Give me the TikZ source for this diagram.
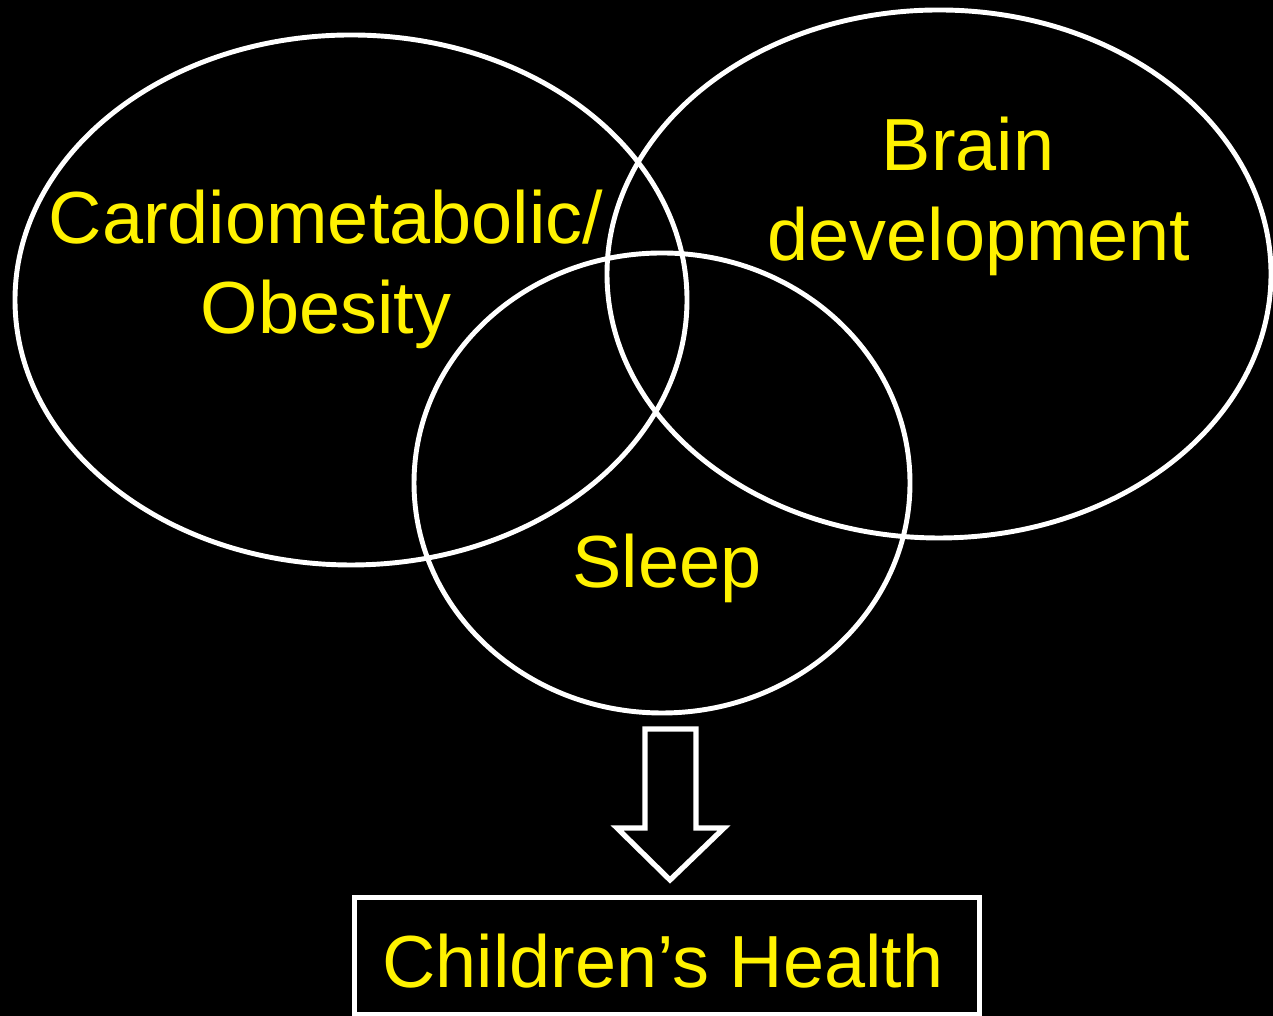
\documentclass[tikz,border=0pt]{standalone}
\usepackage{fontspec}
\setmainfont{Liberation Sans}
\usepackage{tikz}
\usetikzlibrary{positioning}

\begin{document}
\begin{tikzpicture}[x=0.01cm, y=0.01cm,
  ring/.style={draw=white, line width=1.4pt},
  lbl/.style={text=yellow, align=center, inner sep=0pt,
              font=\fontsize{21pt}{25.6pt}\selectfont},
  outcome/.style={draw=white, line width=1.4pt, text=yellow,
                  minimum width=6.24cm, minimum height=1.17cm, inner sep=0pt,
                  font=\fontsize{21pt}{25.6pt}\selectfont}]
% background and page size
\fill[black] (0,0) rectangle (1273,1016);
\useasboundingbox (0,0) rectangle (1273,1016);
% the three areas
\draw[ring] (351,716) ellipse [x radius=336, y radius=265];
\draw[ring] (939,742) ellipse [x radius=332, y radius=264];
\draw[ring] (662,533) ellipse [x radius=248, y radius=230];
\node[lbl] (cardio) at (326,747) {Cardiometabolic/\\Obesity};
\node[lbl] (brain) at (979,820) {Brain\hspace*{0.22cm}\\development};
\node[lbl, anchor=base] (sleep) at (667,428) {Sleep};
% outcome
\node[outcome] (health) at (667,60) {};
\node[lbl, anchor=base] (healthtxt) at (663,28) {Children’s Health};
\draw[white, line width=1.5pt, line join=miter]
  (645,287) -- (696,287) -- (696,188) -- (724,188) -- (670,136)
  -- (617,188) -- (645,188) -- cycle;
\end{tikzpicture}
\end{document}
